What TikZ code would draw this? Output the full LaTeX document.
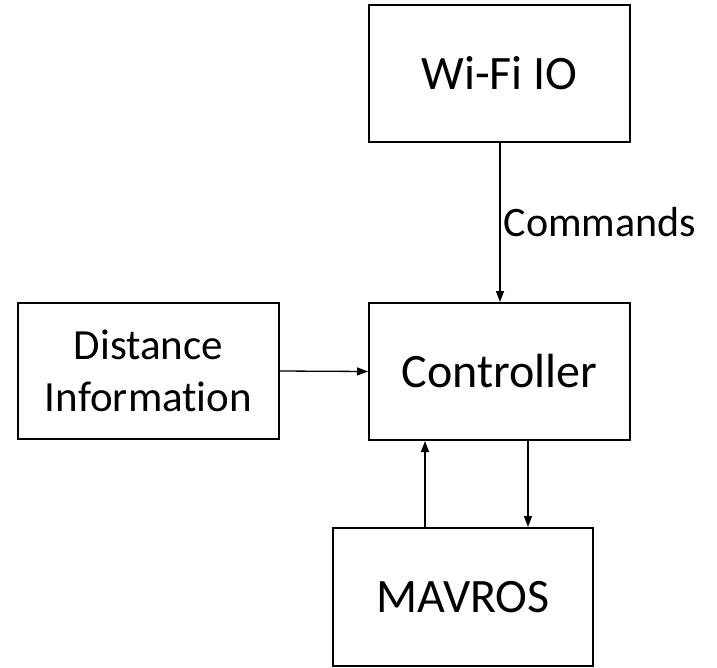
\documentclass[tikz,border=0pt]{standalone}
\usepackage{fontspec}
\setmainfont[Ligatures=NoCommon]{Carlito}
\usetikzlibrary{arrows.meta}
\begin{document}
\begin{tikzpicture}[x=1pt,y=-1pt,
  box/.style={draw,line width=2pt,inner sep=0pt},
  conn/.style={line width=1.3pt,-{Triangle[length=11pt,width=8pt]}},
  big/.style={font=\fontsize{48}{58}\selectfont},
  mid/.style={font=\fontsize{43}{52}\selectfont,align=center}]
\useasboundingbox (0,0) rectangle (717,667);
\node[box,minimum width=261pt,minimum height=137pt,big] (wifi) at (499.5,73.5) {Wi-Fi IO};
\node[box,minimum width=261pt,minimum height=137pt,big] (ctrl) at (499.5,371.5) {Controller};
\node[box,minimum width=261pt,minimum height=136pt,mid] (dist) at (148.5,371) {Distance\\Information};
\node[box,minimum width=260pt,minimum height=138pt,big] (mav) at (463,597) {MAVROS};
\draw[conn] (wifi.south -| 500,0) -- (ctrl.north -| 500,0)
  node[pos=0.5,anchor=west,font=\fontsize{42}{50}\selectfont,inner sep=3pt] (cmd) {Commands};
\draw[conn] (dist.east) -- (ctrl.west);
\draw[conn] (mav.north -| 425,0) -- (ctrl.south -| 425,0);
\draw[conn] (ctrl.south -| 528,0) -- (mav.north -| 528,0);
\end{tikzpicture}
\end{document}
